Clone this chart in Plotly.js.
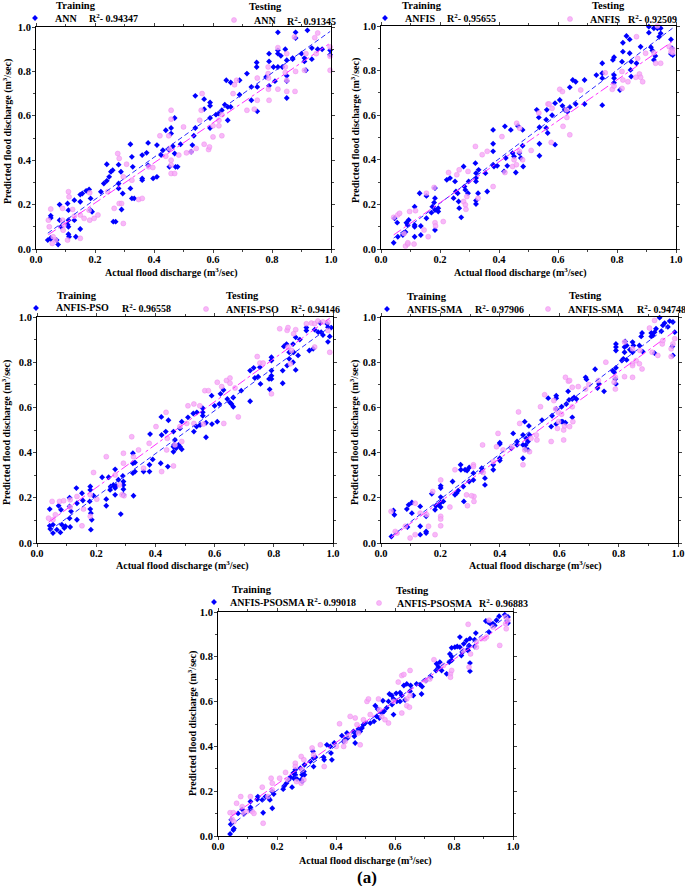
<!DOCTYPE html>
<html><head><meta charset="utf-8">
<script src="https://cdn.plot.ly/plotly-3.0.1.min.js"></script>
<style>body{margin:0;background:#fff}</style></head>
<body><div id="chart" style="width:685px;height:886px"></div>
<script>
const models = ['ANN','ANFIS','ANFIS-PSO','ANFIS-SMA','ANFIS-PSOSMA'];
const trainR2 = ['0.94347','0.95655','0.96558','0.97906','0.99018'];
const testR2 = ['0.91345','0.92509','0.94146','0.94748','0.96883'];
const tickVals = [0,0.2,0.4,0.6,0.8,1.0];
const tickText = ['0.0','0.2','0.4','0.6','0.8','1.0'];
const xTitle = 'Actual flood discharge (m<sup>3</sup>/sec)';
const yTitle = 'Predicted flood discharge (m<sup>3</sup>/sec)';

const annTrain = [[.04,.04],[.05,.045],[.05,.05],[.05,.14],[.05,.15],[.07,.04],[.075,.02],[.08,.2],[.085,.1],[.08,.13],[.107,.11],[.11,.13],[.11,.1],[.11,.175],[.107,.205],[.11,.067],[.112,.055],[.13,.22],[.135,.055],[.13,.13],[.15,.245],[.15,.213],[.15,.09],[.157,.25],[.17,.262],[.18,.268],[.185,.228],[.185,.175],[.19,.168],[.22,.258],[.23,.295],[.24,.382],[.24,.307],[.248,.325],[.254,.348],[.26,.355],[.262,.123],[.27,.123],[.28,.38],[.28,.295],[.28,.273],[.288,.348],[.294,.25],[.29,.178],[.32,.472],[.325,.415],[.325,.228],[.328,.37],[.32,.273],[.333,.228],[.36,.423],[.36,.318],[.36,.31],[.38,.377],[.375,.433],[.38,.478],[.397,.318],[.41,.325],[.424,.423],[.41,.468],[.43,.445],[.45,.448],[.452,.37],[.464,.463],[.47,.43],[.473,.37],[.48,.37],[.49,.472],[.526,.438],[.53,.468],
[.44,.535],[.458,.545],[.47,.59],[.458,.52],[.535,.51],[.54,.545],[.54,.69],[.57,.63],[.57,.675],[.59,.66],[.59,.645],[.59,.59],[.59,.545],[.61,.605],[.62,.61],[.63,.625],[.64,.65],[.65,.64],[.66,.64],[.645,.76],[.66,.75],[.69,.76],[.65,.58],[.69,.695],[.715,.79],[.73,.73],[.73,.67],[.75,.62],[.75,.73],[.748,.84],[.748,.82],[.79,.845],[.79,.88],[.78,.775],[.79,.735],[.81,.756],[.82,.976],[.82,.895],[.82,.88],[.83,.87],[.82,.82],[.805,.82],[.835,.82],[.85,.757],[.85,.78],[.85,.68],[.85,.85],[.845,.9],[.88,.976],[.88,.95],[.87,.86],[.87,.855],[.91,.845],[.91,.86],[.915,.805],[.92,.985],[.935,.905],[.955,.9],[.935,.855],[.97,.9],[.997,.895],[.997,.875],[.9,.88]];
const annTest = [[.042,.13],[.05,.18],[.045,.1],[.058,.055],[.055,.025],[.066,.04],[.09,.183],[.09,.13],[.095,.108],[.092,.085],[.107,.04],[.11,.258],[.112,.235],[.124,.178],[.13,.148],[.15,.153],[.15,.048],[.163,.138],[.18,.175],[.182,.253],[.182,.13],[.197,.138],[.21,.153],[.243,.258],[.265,.183],[.277,.43],[.282,.408],[.282,.205],[.296,.325],[.29,.205],[.296,.115],[.307,.382],[.325,.31],[.348,.223],[.36,.228],[.382,.37],[.396,.367],[.44,.418],[.452,.453],[.458,.4],[.458,.34],[.47,.34],[.458,.378],[.484,.423],[.51,.433],[.526,.438],[.543,.453],[.57,.472],[.585,.448],[.588,.46],
[.458,.585],[.563,.70],[.56,.625],[.555,.58],[.6,.505],[.6,.555],[.62,.555],[.63,.605],[.62,.58],[.668,.70],[.673,.74],[.68,.76],[.75,.77],[.75,.67],[.74,.63],[.787,.82],[.787,.79],[.788,.77],[.788,.72],[.79,.67],[.82,.907],[.82,.72],[.845,.82],[.845,.795],[.85,.88],[.85,.76],[.85,.71],[.876,.955],[.878,.71],[.88,.8],[.91,.805],[.915,.88],[.945,.952],[.95,.88],[.955,.973],[.997,.91],[.997,.868],[.997,.805],[.715,.625],[.458,.625],[.5,.55],[.42,.51],[.45,.51],[.63,.51]];

const anfisTrain = [[.043,.028],[.046,.138],[.055,.118],[.057,.055],[.074,.063],[.083,.076],[.086,.118],[.09,.108],[.094,.13],[.114,.19],[.114,.108],[.114,.1],[.114,.055],[.131,.25],[.135,.103],[.135,.063],[.154,.138],[.154,.238],[.171,.163],[.174,.19],[.18,.208],[.183,.273],[.183,.228],[.183,.175],[.183,.085],[.194,.183],[.194,.168],[.223,.31],[.234,.318],[.246,.228],[.251,.303],[.254,.258],[.26,.25],[.263,.213],[.265,.183],[.272,.142],[.28,.37],[.283,.28],[.286,.265],[.297,.303],[.295,.25],[.32,.385],[.322,.34],[.322,.318],[.322,.303],[.322,.217],[.322,.202],[.329,.25],[.331,.355],[.354,.34],[.36,.258],[.38,.472],[.38,.438],[.38,.378],[.383,.37],[.394,.373],[.417,.348],[.423,.408],[.428,.373],[.446,.43],[.451,.415],[.457,.343],[.469,.43],[.474,.408],[.48,.463],[.482,.37],[.537,.472],[.537,.418],[.59,.468],
[.38,.534],[.42,.55],[.44,.534],[.464,.552],[.48,.534],[.528,.624],[.535,.59],[.537,.546],[.56,.543],[.56,.58],[.562,.624],[.565,.52],[.58,.6],[.59,.654],[.606,.668],[.615,.642],[.623,.624],[.632,.616],[.64,.636],[.65,.758],[.66,.75],[.66,.65],[.64,.725],[.69,.758],[.69,.65],[.73,.78],[.75,.788],[.75,.833],[.75,.766],[.75,.645],[.786,.848],[.79,.86],[.79,.78],[.79,.766],[.79,.746],[.81,.713],[.817,.84],[.82,.885],[.82,.925],[.832,.955],[.843,.94],[.843,.878],[.848,.84],[.848,.773],[.846,.803],[.866,.833],[.88,.907],[.908,.97],[.908,.997],[.915,.905],[.925,.99],[.937,.99],[.948,.967],[.943,.952],[.925,.848],[.92,.89],[.93,.866],[.948,.99],[.983,.94],[.986,.9],[.989,.87],[.983,.875]];
const anfisTest = [[.043,.142],[.057,.153],[.063,.16],[.078,.07],[.083,.013],[.091,.022],[.097,.168],[.091,.028],[.112,.022],[.117,.172],[.146,.085],[.154,.25],[.16,.055],[.18,.276],[.183,.118],[.185,.103],[.211,.123],[.229,.343],[.257,.333],[.265,.355],[.28,.213],[.286,.198],[.291,.235],[.295,.348],[.288,.178],[.32,.46],[.329,.228],[.343,.423],[.36,.438],[.38,.28],[.42,.343],[.446,.37],[.451,.4],[.459,.378],[.469,.438],[.48,.4],[.509,.442],[.577,.478],
[.41,.504],[.46,.564],[.47,.542],[.535,.61],[.566,.65],[.57,.65],[.58,.631],[.606,.716],[.615,.706],[.629,.624],[.63,.59],[.617,.55],[.64,.512],[.677,.713],[.76,.79],[.784,.716],[.79,.731],[.817,.72],[.817,.796],[.82,.758],[.837,.75],[.866,.952],[.876,.785],[.87,.855],[.864,.77],[.88,.77],[.887,.75],[.897,.878],[.925,.88],[.937,1.0],[.977,.907],[.983,.885],[.989,.895],[.989,.88],[.931,.833],[.948,.833]];

const psoTrain = [[.043,.15],[.043,.076],[.045,.062],[.054,.081],[.054,.044],[.067,.059],[.073,.165],[.079,.047],[.081,.147],[.084,.081],[.092,.066],[.096,.074],[.11,.2],[.11,.162],[.11,.109],[.112,.071],[.115,.14],[.133,.243],[.135,.176],[.135,.103],[.152,.22],[.155,.188],[.178,.184],[.18,.25],[.18,.235],[.18,.15],[.182,.132],[.185,.103],[.182,.059],[.191,.209],[.22,.291],[.234,.194],[.234,.165],[.242,.291],[.247,.235],[.249,.25],[.258,.257],[.264,.243],[.264,.326],[.264,.213],[.267,.253],[.275,.28],[.283,.128],[.29,.297],[.292,.238],[.292,.213],[.292,.272],[.292,.257],[.324,.397],[.324,.353],[.324,.309],[.326,.209],[.331,.356],[.331,.316],[.36,.316],[.38,.316],[.38,.346],[.382,.482],[.391,.37],[.418,.353],[.421,.478],[.435,.493],[.442,.338],[.461,.404],[.461,.426],[.463,.434],[.466,.456],[.461,.493],[.47,.419],[.478,.434],[.483,.426],[.489,.415],[.483,.507],[.489,.537],[.53,.493],[.539,.515],[.551,.522],[.571,.532],[.571,.468],[.591,.526],[.609,.537],
[.42,.558],[.444,.543],[.51,.556],[.528,.573],[.54,.578],[.56,.596],[.56,.578],[.56,.563],[.59,.652],[.6,.607],[.616,.615],[.62,.66],[.63,.677],[.643,.637],[.652,.622],[.657,.615],[.663,.603],[.663,.644],[.69,.674],[.72,.627],[.72,.763],[.732,.775],[.736,.73],[.747,.736],[.753,.778],[.755,.704],[.786,.68],[.784,.726],[.792,.822],[.792,.807],[.792,.763],[.792,.726],[.792,.74],[.83,.763],[.83,.707],[.834,.87],[.843,.88],[.845,.785],[.852,.815],[.852,.844],[.865,.88],[.867,.844],[.874,.766],[.874,.91],[.865,.8],[.882,.83],[.888,.9],[.91,.953],[.91,.94],[.92,.852],[.933,.859],[.938,.944],[.95,.933],[.96,.933],[.966,.92],[.98,.97],[.983,.955],[.983,.89],[.989,.914],[.994,.953],[.957,.973]];
const psoTest = [[.039,.11],[.051,.184],[.054,.103],[.062,.125],[.076,.184],[.09,.187],[.112,.191],[.112,.159],[.135,.206],[.152,.076],[.157,.15],[.18,.118],[.18,.213],[.191,.312],[.202,.194],[.234,.382],[.264,.301],[.279,.257],[.287,.213],[.294,.209],[.292,.397],[.292,.353],[.32,.47],[.326,.382],[.343,.412],[.36,.331],[.379,.441],[.402,.515],[.421,.316],[.438,.412],[.44,.463],[.461,.341],[.466,.434],[.489,.449],[.483,.515],[.506,.529],[.53,.529],[.562,.526],[.631,.529],
[.436,.578],[.51,.607],[.53,.615],[.55,.607],[.567,.674],[.579,.674],[.609,.711],[.624,.692],[.64,.719],[.652,.73],[.652,.707],[.669,.686],[.68,.558],[.744,.825],[.753,.796],[.764,.796],[.792,.66],[.82,.948],[.845,.941],[.848,.953],[.848,.867],[.856,.793],[.86,.852],[.874,.944],[.867,.926],[.91,.97],[.927,.973],[.938,.97],[.949,.982],[.966,.978],[.983,.978],[.989,.844],[.983,.94],[.938,.867]];

const smaTrain = [[.035,.029],[.042,.144],[.045,.125],[.087,.15],[.093,.169],[.104,.179],[.104,.132],[.089,.071],[.132,.162],[.132,.074],[.132,.037],[.152,.118],[.152,.051],[.152,.044],[.171,.218],[.182,.147],[.185,.165],[.193,.169],[.201,.253],[.201,.243],[.201,.203],[.201,.179],[.201,.159],[.21,.184],[.241,.272],[.249,.213],[.255,.221],[.26,.232],[.268,.346],[.269,.324],[.277,.25],[.279,.184],[.283,.324],[.29,.321],[.297,.334],[.297,.272],[.311,.309],[.311,.279],[.339,.331],[.339,.316],[.35,.287],[.35,.257],[.378,.324],[.378,.346],[.4,.444],[.4,.438],[.4,.375],[.4,.365],[.439,.419],[.445,.485],[.458,.449],[.458,.434],[.478,.478],[.478,.434],[.478,.375],[.484,.537],[.487,.434],[.489,.463],[.495,.449],[.495,.412],[.487,.415],[.498,.518],[.5,.478],[.573,.515],[.59,.526],[.607,.537],[.612,.537],[.621,.532],
[.542,.544],[.563,.641],[.576,.563],[.59,.652],[.59,.641],[.59,.593],[.608,.603],[.624,.615],[.63,.671],[.633,.633],[.644,.637],[.65,.644],[.658,.637],[.644,.556],[.689,.733],[.692,.724],[.721,.769],[.729,.686],[.734,.704],[.751,.671],[.78,.763],[.785,.756],[.789,.726],[.791,.704],[.791,.775],[.791,.881],[.791,.867],[.791,.852],[.811,.807],[.816,.815],[.82,.844],[.82,.867],[.822,.892],[.827,.81],[.827,.874],[.838,.855],[.847,.889],[.847,.844],[.85,.874],[.87,.874],[.876,.914],[.879,.929],[.881,.847],[.91,.914],[.91,.929],[.915,.919],[.921,.933],[.921,.84],[.926,.948],[.938,.997],[.944,.937],[.955,.973],[.972,.982],[.983,.978],[.989,.933],[.983,.83],[.981,.87],[.966,.956],[.949,.963]];
const smaTest = [[.034,.14],[.048,.051],[.054,.044],[.082,.074],[.098,.022],[.115,.037],[.115,.176],[.132,.132],[.154,.125],[.16,.074],[.174,.228],[.182,.037],[.201,.279],[.201,.118],[.201,.106],[.201,.076],[.232,.159],[.249,.324],[.288,.213],[.291,.165],[.311,.346],[.311,.338],[.313,.206],[.313,.184],[.305,.209],[.342,.434],[.344,.312],[.378,.36],[.389,.426],[.394,.485],[.411,.412],[.439,.426],[.467,.529],[.478,.346],[.484,.412],[.5,.404],[.505,.463],[.523,.478],[.525,.456],[.573,.449],[.594,.507],[.598,.537],[.615,.5],[.615,.456],[.618,.518],[.635,.515],[.646,.537],
[.463,.58],[.537,.603],[.551,.656],[.582,.63],[.588,.593],[.597,.578],[.608,.57],[.621,.733],[.631,.716],[.635,.719],[.644,.689],[.644,.603],[.664,.692],[.689,.681],[.7,.701],[.732,.719],[.757,.8],[.785,.711],[.789,.681],[.789,.733],[.82,.736],[.82,.889],[.847,.859],[.847,.793],[.847,.785],[.847,.733],[.859,.807],[.87,.793],[.879,.77],[.872,.852],[.904,.951],[.913,.844],[.932,.83],[.921,.985],[.947,.881],[.949,.896],[.977,.825],[.977,.859],[.989,.904],[.983,.881]];

const psosmaTrain = [[.041,.009],[.043,.052],[.045,.072],[.052,.027],[.054,.034],[.068,.101],[.082,.119],[.088,.099],[.108,.116],[.11,.128],[.11,.154],[.133,.164],[.135,.176],[.15,.161],[.153,.104],[.161,.176],[.172,.169],[.176,.161],[.184,.199],[.184,.124],[.189,.187],[.221,.209],[.225,.224],[.232,.236],[.24,.251],[.245,.263],[.251,.218],[.255,.281],[.257,.258],[.259,.284],[.262,.296],[.262,.273],[.268,.254],[.279,.303],[.282,.251],[.285,.273],[.285,.243],[.291,.288],[.293,.273],[.293,.318],[.313,.333],[.322,.378],[.324,.348],[.324,.31],[.33,.352],[.358,.352],[.36,.34],[.369,.407],[.381,.4],[.383,.37],[.386,.34],[.394,.415],[.42,.448],[.426,.422],[.431,.43],[.437,.46],[.439,.437],[.459,.467],[.462,.445],[.465,.415],[.468,.46],[.476,.478],[.482,.467],[.488,.482],[.493,.497],[.499,.504],[.516,.504],[.529,.512],[.538,.534],[.547,.527],[.555,.549],[.563,.557],[.572,.572],[.59,.587],[.595,.542],[.606,.601],[.617,.601],
[.533,.582],[.541,.567],[.559,.604],[.578,.601],[.581,.634],[.589,.627],[.595,.612],[.604,.637],[.617,.64],[.623,.627],[.63,.672],[.634,.607],[.64,.679],[.651,.646],[.653,.672],[.662,.627],[.673,.679],[.685,.676],[.69,.634],[.692,.667],[.705,.694],[.721,.709],[.739,.739],[.741,.769],[.747,.754],[.752,.776],[.758,.739],[.775,.724],[.784,.776],[.786,.813],[.792,.84],[.792,.801],[.792,.784],[.803,.843],[.811,.846],[.82,.843],[.82,.888],[.825,.806],[.829,.821],[.833,.858],[.842,.873],[.845,.831],[.848,.828],[.851,.851],[.854,.736],[.854,.772],[.854,.881],[.87,.876],[.87,.846],[.874,.906],[.908,.96],[.916,.955],[.923,.948],[.932,.948],[.919,.91],[.938,.94],[.944,.963],[.953,.981],[.972,.988],[.98,.96],[.983,.951],[.983,.978]];
const psosmaTest = [[.041,.104],[.048,.075],[.052,.104],[.054,.064],[.063,.146],[.077,.176],[.082,.131],[.088,.101],[.097,.109],[.11,.176],[.116,.109],[.122,.101],[.15,.218],[.153,.057],[.169,.176],[.18,.258],[.184,.236],[.184,.206],[.209,.258],[.229,.284],[.236,.251],[.262,.325],[.262,.31],[.266,.243],[.282,.355],[.282,.236],[.285,.296],[.291,.34],[.291,.251],[.319,.393],[.324,.363],[.347,.407],[.36,.31],[.401,.4],[.412,.501],[.426,.4],[.431,.422],[.443,.448],[.448,.534],[.465,.527],[.471,.497],[.476,.46],[.482,.407],[.493,.519],[.505,.601],[.516,.542],[.547,.564],[.555,.534],[.566,.519],[.578,.504],[.595,.601],[.623,.549],[.64,.582],
[.51,.612],[.544,.612],[.611,.687],[.623,.716],[.63,.721],[.651,.739],[.64,.612],[.651,.627],[.649,.575],[.703,.694],[.718,.701],[.732,.787],[.764,.761],[.788,.724],[.788,.709],[.792,.739],[.831,.828],[.848,.945],[.851,.754],[.856,.813],[.876,.866],[.876,.843],[.893,.881],[.904,.881],[.91,.888],[.919,.963],[.932,.933],[.955,.851],[.975,.978],[.977,.925],[.983,.963],[.975,.948]];

const trainSets = [annTrain, anfisTrain, psoTrain, smaTrain, psosmaTrain];
const testSets = [annTest, anfisTest, psoTest, smaTest, psosmaTest];

const W = 685, H = 886;
const fx = p => p / W, fy = p => 1 - p / H;
// pixel boxes of each panel: [left, right, top, bottom]
const boxes = [[36,331,27,249],[381,676,26,249],[37,333,317,543],[381,678,317,543],[218,513,612,836]];
const legTrain = [[38,18],[388,18],[39,308],[390,309],[217,602]];
const legTest = [[237,20],[573,19],[209,309],[551,309],[382,603]];
// [model-name x, R² x, y]
const txtTrain = [[53,87,18],[403,445,18],[54,120,308],[405,473,309],[228,305,602]];
const txtTest = [[252,285,21],[588,626,19],[224,289,309],[566,635,309],[395,477,603]];
const headTrain = [[76,5],[422,5],[77,295],[427,296],[252,589]];
const headTest = [[265,6],[608,5],[243,295],[585,295],[412,590]];
// axis-title centres: [x-title x, x-title y, y-title x, y-title y]
const titlePos = [[171,272,7,132],[520,272,355,131],[183,565,7,433],[535,565,355,433],[365,860,192,724]];

const FONT = 'Liberation Serif, Times New Roman, serif';
const BLUE = '#0000ff', PINK = 'rgba(246,168,246,0.8)';

function fit(pts) {
  const n = pts.length;
  let sx=0, sy=0, sxx=0, sxy=0;
  pts.forEach(([x,y]) => { sx+=x; sy+=y; sxx+=x*x; sxy+=x*y; });
  const b = (n*sxy - sx*sy) / (n*sxx - sx*sx);
  const a = (sy - b*sx) / n;
  const xs = pts.map(p => p[0]);
  const x0 = Math.min(...xs), x1 = Math.max(...xs);
  return {x:[x0,x1], y:[a+b*x0, a+b*x1]};
}

const data = [];
const layout = {width:W, height:H, margin:{l:0,r:0,t:0,b:0}, paper_bgcolor:'#fff', plot_bgcolor:'#fff',
  showlegend:true, annotations:[], font:{family:FONT, color:'#000'}};
const LEGOFF = 23;

function label(x, y, text, anchor, size, angle) {
  layout.annotations.push({xref:'paper', yref:'paper', x:fx(x), y:fy(y), text:'<b>'+text+'</b>', showarrow:false,
    xanchor:anchor, yanchor:'middle', textangle:angle || 0, font:{family:FONT, size:size, color:'#000'}});
}

for (let i=0;i<5;i++) {
  const s = i===0 ? '' : String(i+1);
  const xa = 'x'+s, ya = 'y'+s;
  const tr = trainSets[i], te = testSets[i];
  const lt = 'legend' + (i===0 ? '' : String(2*i+1));
  const le = 'legend' + String(2*i+2);
  data.push({type:'scatter', mode:'markers', x:tr.map(p=>p[0]), y:tr.map(p=>p[1]), xaxis:xa, yaxis:ya,
    name:'\u00a0', legend:lt,
    marker:{symbol:'diamond', size:4.5, color:BLUE}, cliponaxis:false});
  data.push({type:'scatter', mode:'markers', x:te.map(p=>p[0]), y:te.map(p=>p[1]), xaxis:xa, yaxis:ya,
    name:'\u00a0', legend:le,
    marker:{symbol:'circle', size:5, color:PINK, line:{color:'rgba(236,130,236,0.85)', width:0.5}}, cliponaxis:false});
  const f1 = fit(tr), f2 = fit(te);
  data.push({type:'scatter', mode:'lines', x:f1.x, y:f1.y, xaxis:xa, yaxis:ya, showlegend:false,
    line:{color:'#2a2aff', width:1, dash:'5px,3px'}});
  data.push({type:'scatter', mode:'lines', x:f2.x, y:f2.y, xaxis:xa, yaxis:ya, showlegend:false,
    line:{color:'#ff30ff', width:1, dash:'dashdot'}});

  const [l,r,t,b] = boxes[i];
  const common = {range:[0,1], tickvals:tickVals, ticktext:tickText, ticks:'outside', ticklen:3, tickwidth:1,
    showline:true, linecolor:'#000', linewidth:1, mirror:'ticks', showgrid:false, zeroline:false, automargin:false,
    ticklabelstandoff:-3,
    tickfont:{family:FONT, size:10.5, color:'#000', weight:'bold'},
    minor:{ticks:'outside', ticklen:2, dtick:0.1, tick0:0, showgrid:false}};
  layout['xaxis'+s] = Object.assign({}, common, {domain:[fx(l), fx(r)], anchor:ya});
  layout['yaxis'+s] = Object.assign({}, common, {domain:[fy(b), fy(t)], anchor:xa, ticklabelstandoff:-1});

  const legCommon = {bgcolor:'rgba(0,0,0,0)', borderwidth:0, xanchor:'left', yanchor:'middle',
    font:{family:FONT, size:10.5, color:'#000'}, itemwidth:30, orientation:'v'};
  layout[lt] = Object.assign({}, legCommon, {x:fx(legTrain[i][0]-LEGOFF), y:fy(legTrain[i][1])});
  layout[le] = Object.assign({}, legCommon, {x:fx(legTest[i][0]-LEGOFF), y:fy(legTest[i][1])});

  label(txtTrain[i][0], txtTrain[i][2], models[i], 'left', 10);
  label(txtTrain[i][1], txtTrain[i][2], 'R<sup>2</sup>- '+trainR2[i], 'left', 10);
  label(txtTest[i][0], txtTest[i][2], models[i], 'left', 10);
  label(txtTest[i][1], txtTest[i][2], 'R<sup>2</sup>- '+testR2[i], 'left', 10);
  label(headTrain[i][0], headTrain[i][1], 'Training', 'center', 10.5);
  label(headTest[i][0], headTest[i][1], 'Testing', 'center', 10.5);
  label(titlePos[i][0], titlePos[i][1], xTitle, 'center', 10);
  label(titlePos[i][2], titlePos[i][3], yTitle, 'center', 10, -90);
}
label(367, 877, '(a)', 'center', 17);

Plotly.newPlot('chart', data, layout, {displayModeBar:false, staticPlot:true});
</script>
</body></html>
